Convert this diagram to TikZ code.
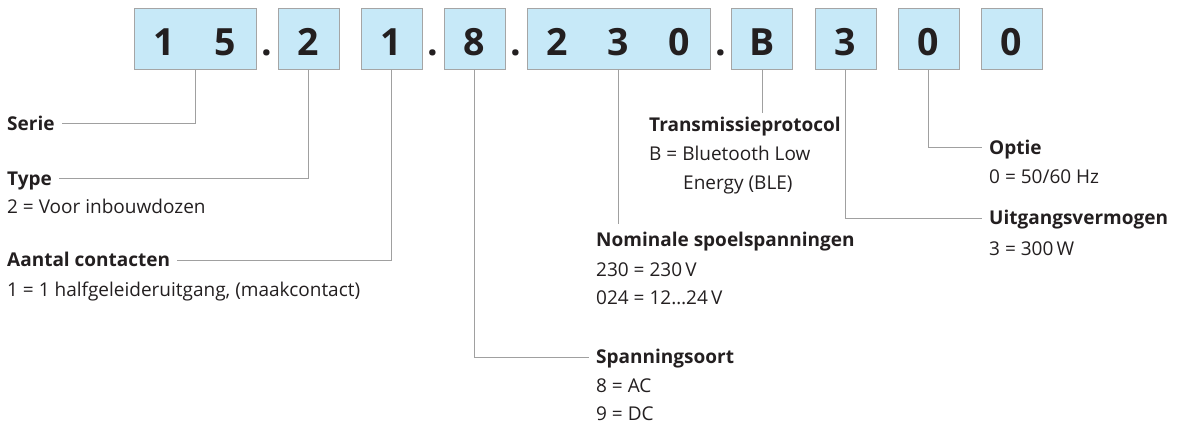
\documentclass[tikz,border=0pt]{standalone}
\usepackage{fontspec}
\setmainfont{Open Sans}
\usepackage{tikz}
\definecolor{cellblue}{HTML}{C7E9F8}
\definecolor{cellgray}{HTML}{A5A5A5}
\definecolor{leadgray}{HTML}{A0A0A0}
\definecolor{ink}{HTML}{231F20}
\newcommand{\cd}[1]{\makebox[61pt]{#1}}
\newcommand{\digitfont}{\fontsize{37.5}{40}\selectfont\bfseries}
\newcommand{\labelfont}{\fontsize{19}{23}\selectfont}

\begin{document}
\begin{tikzpicture}[x=1pt, y=-1pt,
    cell/.style={draw=cellgray, line width=1pt, fill=cellblue, minimum width=61pt, minimum height=61pt,
        inner sep=0pt, text height=33pt, text depth=0pt, font=\digitfont, text=ink},
    sepdot/.style={anchor=base, inner sep=0pt, font=\digitfont, text=ink},
    head/.style={anchor=base west, inner xsep=7pt, inner ysep=5pt, text height=13pt, text depth=0pt,
        font=\labelfont\bfseries, text=ink},
    desc/.style={anchor=base west, inner sep=0pt, font=\labelfont, text=ink},
    lead/.style={draw=leadgray, line width=1pt}]
        \useasboundingbox (0,0) rectangle (1177,423);
        \node [cell, minimum width=122pt] (b15) at (195,38.5) {\cd{1}\cd{5}};
        \node [sepdot] (p1) at (267,55) {.};
        \node [cell] (b2) at (308.5,38.5) {2};
        \node [cell] (b1) at (391.5,38.5) {1};
        \node [sepdot] (p2) at (433,55) {.};
        \node [cell] (b8) at (474.5,38.5) {8};
        \node [sepdot] (p3) at (516,55) {.};
        \node [cell, minimum width=183pt] (b230) at (618.5,38.5) {\cd{2}\cd{3}\cd{0}};
        \node [sepdot] (p4) at (721,55) {.};
        \node [cell] (bB) at (762,38.5) {B};
        \node [cell] (b3) at (845.5,38.5) {3};
        \node [cell] (b0a) at (928.5,38.5) {0};
        \node [cell] (b0b) at (1011.5,38.5) {0};
        \node [head] (serie) at (0,130) {Serie};
        \node [head] (type) at (0,185) {Type};
        \node [desc] (typedesc) at (7,213.5) {2 = Voor inbouwdozen};
        \node [head] (aantal) at (0,266.5) {Aantal contacten};
        \node [desc] (aantaldesc) at (7,296.5) {1 = 1 halfgeleideruitgang, (maakcontact)};
        \node [head] (spanning) at (589,363.5) {Spanningsoort};
        \node [desc] (ac) at (596,392) {8 = AC};
        \node [desc] (dc) at (596,420) {9 = DC};
        \node [head, inner ysep=9pt] (nominal) at (589,246) {Nominale spoelspanningen};
        \node [desc] (v230) at (596,276) {230 = 230\,V};
        \node [desc] (v024) at (596,304) {024 = 12…24\,V};
        \node [head] (trans) at (642,131.5) {Transmissieprotocol};
        \node [desc] (ble1) at (649,160.5) {B = Bluetooth Low};
        \node [desc] (ble2) at (683,189.5) {Energy (BLE)};
        \node [head] (optie) at (982,154) {Optie};
        \node [desc] (hz) at (989,183.5) {0 = 50/60 Hz};
        \node [head] (uitgang) at (982,224.5) {Uitgangsvermogen};
        \node [desc] (watt) at (989,255) {3 = 300\,W};
        \draw [lead] (b15.south) |- (serie.east);
        \draw [lead] (b2.south) |- (type.east);
        \draw [lead] (b1.south) |- (aantal.east);
        \draw [lead] (b8.south) |- (spanning.west);
        \draw [lead] (b230.south) -- (b230.south |- nominal.north);
        \draw [lead] (bB.south) -- (bB.south |- trans.north);
        \draw [lead] (b3.south) |- (uitgang.west);
        \draw [lead] (b0a.south) |- (optie.west);
    \end{tikzpicture}
\end{document}
